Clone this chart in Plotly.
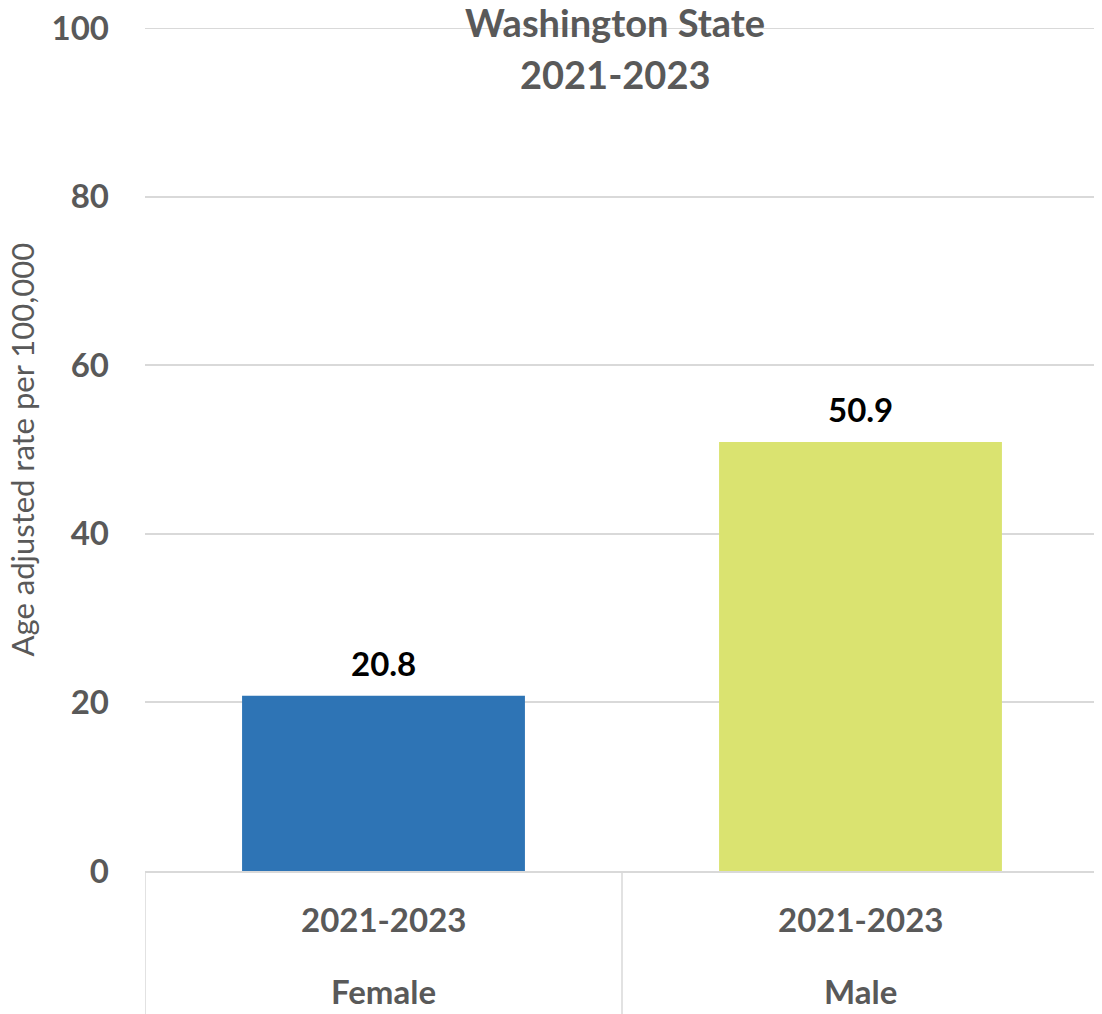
import plotly.graph_objects as go

# Data
sexes = ["Female", "Male"]
periods = ["2021-2023", "2021-2023"]
rates = [20.8, 50.9]
bar_colors = ["#2E74B5", "#DAE370"]
y_ticks = [0, 20, 40, 60, 80, 100]
title_lines = ["Washington State", "2021-2023"]
y_title = "Age adjusted rate per 100,000"

FONT = "Lato"
GRAY = "#595959"
GRID = "#D9D9D9"

xs = list(range(len(sexes)))

fig = go.Figure()
fig.add_trace(go.Bar(
    x=xs, y=rates, marker=dict(color=bar_colors, line=dict(width=0)),
    width=0.593, hoverinfo="skip",
))

annotations = []
# data labels
for x, v in zip(xs, rates):
    annotations.append(dict(
        x=x, y=v, xref="x", yref="y", text=f"<b>{v:.1f}</b>", showarrow=False,
        yanchor="bottom", yshift=11, font=dict(family=FONT, size=33, color="#000000"),
    ))
# category labels (two levels)
for x, p, s in zip(xs, periods, sexes):
    annotations.append(dict(
        x=x, y=-0.0575, xref="x", yref="paper", text=f"<b>{p}</b>", showarrow=False,
        yanchor="middle", font=dict(family=FONT, size=33, color=GRAY),
    ))
    annotations.append(dict(
        x=x, y=-0.142, xref="x", yref="paper", text=f"<b>{s}</b>", showarrow=False,
        yanchor="middle", font=dict(family=FONT, size=33, color=GRAY),
    ))
# title
annotations.append(dict(
    x=0.493, y=1.0075, xref="paper", yref="paper", text=f"<b>{title_lines[0]}</b>",
    showarrow=False, yanchor="middle", font=dict(family=FONT, size=38, color=GRAY),
))
annotations.append(dict(
    x=0.493, y=0.946, xref="paper", yref="paper", text=f"<b>{title_lines[1]}</b>",
    showarrow=False, yanchor="middle", font=dict(family=FONT, size=38, color=GRAY),
))
# y axis title
annotations.append(dict(
    x=-0.129, y=0.5, xref="paper", yref="paper", text=y_title, textangle=-90,
    showarrow=False, xanchor="center", yanchor="middle",
    font=dict(family=FONT, size=31, color=GRAY),
))

# dividers for category axis
shapes = []
for b in [xs[0] - 0.5] + [x + 0.5 for x in xs]:
    shapes.append(dict(
        type="line", xref="x", yref="paper", x0=b, x1=b, y0=0, y1=-0.2,
        line=dict(color=GRID, width=1.5),
    ))
# top gridline (plotly skips gridlines at the range edge)
shapes.append(dict(
    type="line", xref="paper", yref="y", x0=0, x1=1, y0=y_ticks[-1], y1=y_ticks[-1],
    line=dict(color=GRID, width=2), layer="below",
))

fig.update_layout(
    width=1102, height=1014,
    margin=dict(l=137, r=11, t=20, b=151, autoexpand=False),
    paper_bgcolor="white", plot_bgcolor="white",
    showlegend=False,
    annotations=annotations, shapes=shapes,
    xaxis=dict(range=[-0.5, len(xs) - 0.5], showticklabels=False, showgrid=False,
               zeroline=False, showline=True, linecolor=GRID, linewidth=1.5,
               ticks="", automargin=False),
    yaxis=dict(range=[0, 100], tickvals=y_ticks, ticktext=[f"<b>{t}</b>" for t in y_ticks],
               showgrid=True, gridcolor=GRID, gridwidth=1.5, zeroline=False,
               showline=False, ticks="", ticklabelstandoff=35,
               ticklabeloverflow="allow", automargin=False,
               tickfont=dict(family=FONT, size=33, color=GRAY)),
)

fig.write_html("out.html")
